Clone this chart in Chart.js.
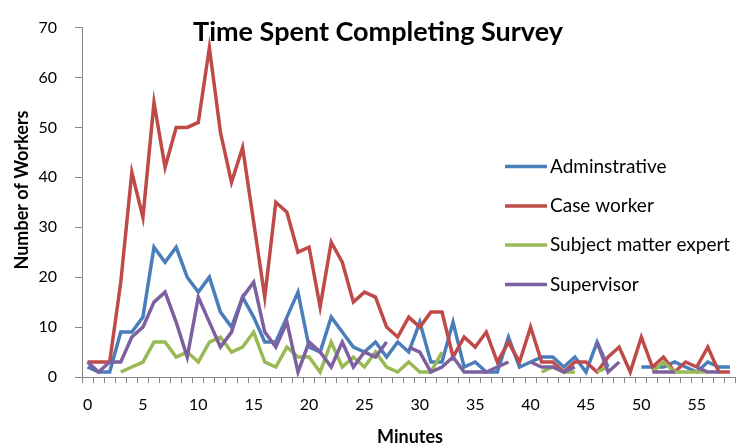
<!DOCTYPE html>
<html>
<head>
<meta charset="utf-8">
<script src="https://cdn.jsdelivr.net/npm/chart.js@4.4.1/dist/chart.umd.min.js"></script>
<style>
  html, body { margin: 0; padding: 0; background: #fff; }
  #wrap { width: 742px; height: 446px; }
</style>
</head>
<body>
<div id="wrap"><canvas id="g_tiempo"></canvas></div>
<script>
var minutos = ['0','1','2','3','4','5','6','7','8','9','10','11','12','13','14','15','16','17','18','19',
               '20','21','22','23','24','25','26','27','28','29','30','31','32','33','34','35','36','37','38','39',
               '40','41','42','43','44','45','46','47','48','49','50','51','52','53','54','55','56','57','58'];

var administrativo = [2,1,1,9,9,12,26,23,26,20,17,20,13,10,16,12,7,7,12,17,
                      6,5,12,9,6,5,7,4,7,5,11,3,3,11,2,3,1,1,8,2,
                      3,4,4,2,4,1,7,2,null,null,2,2,2,3,2,1,3,2,2];

var trabajador_caso = [3,3,3,19,41,32,55,42,50,50,51,66,49,39,46,31,16,35,33,25,
                       26,14,27,23,15,17,16,10,8,12,10,13,13,4,8,6,9,3,7,3,
                       10,3,3,1,3,3,1,4,6,1,8,2,4,1,3,2,6,1,1];

var experto = [null,null,null,1,2,3,7,7,4,5,3,7,8,5,6,9,3,2,6,4,
               4,1,7,2,4,2,5,2,1,3,1,1,5,null,null,null,null,null,null,null,
               null,1,2,1,1,null,1,2,null,null,null,1,3,1,1,1,1,null,null];

var supervisor = [3,1,3,3,8,10,15,17,11,4,16,11,6,9,16,19,9,6,11,1,
                  7,5,2,7,2,5,4,7,null,6,5,1,2,4,1,1,1,2,3,null,
                  3,2,2,1,2,null,7,1,3,null,null,1,1,1,null,2,1,1,null];

var series = ['Adminstrative', 'Case worker', 'Subject matter expert', 'Supervisor'];
var colores = ['#4A7EBB', '#BE4B48', '#98B954', '#7D60A0'];

var gris = '#868686';
var fuente = 'Lato, "Open Sans", sans-serif';

// titulo, leyenda y titulos de ejes dibujados a mano
var textos = {
    id: 'textos',
    afterDraw: function (chart) {
        var ctx = chart.ctx;
        ctx.save();
        ctx.fillStyle = '#000';
        ctx.textAlign = 'center';
        ctx.textBaseline = 'middle';
        ctx.font = 'bold 27px ' + fuente;
        ctx.fillText('Time Spent Completing Survey', 378, 32);

        ctx.font = 'bold 18px ' + fuente;
        ctx.fillText('Minutes', 410, 437);

        ctx.save();
        ctx.translate(22, 190);
        ctx.rotate(-Math.PI / 2);
        ctx.fillText('Number of Workers', 0, 0);
        ctx.restore();

        var ys = [166.5, 206, 245, 284.5];
        ctx.textAlign = 'left';
        ctx.font = '19px ' + fuente;
        for (let i = 0; i < series.length; i++) {
            ctx.strokeStyle = colores[i];
            ctx.lineWidth = 3.5;
            ctx.beginPath();
            ctx.moveTo(505, ys[i]);
            ctx.lineTo(547, ys[i]);
            ctx.stroke();
            ctx.fillStyle = '#000';
            ctx.fillText(series[i], 550, ys[i]);
        }
        ctx.restore();
    }
};

var datos = [administrativo, trabajador_caso, experto, supervisor];
var datasets = [];
for (let i = 0; i < datos.length; i++) {
    datasets.push({
        label: series[i],
        data: datos[i],
        borderColor: colores[i],
        backgroundColor: colores[i],
        borderWidth: 3.5,
        pointRadius: 0,
        tension: 0,
        spanGaps: false,
        order: 4 - i
    });
}

var ctx = document.getElementById('g_tiempo').getContext('2d');
var myChart = new Chart(ctx, {
    type: 'line',
    data: {
        labels: minutos,
        datasets: datasets
    },
    options: {
        responsive: true,
        maintainAspectRatio: false,
        animation: false,
        layout: { padding: { left: 0, top: 19, right: 5, bottom: 0 } },
        plugins: {
            legend: { display: false },
            title: { display: false },
            tooltip: { enabled: false }
        },
        scales: {
            x: {
                type: 'category',
                offset: true,
                border: { display: true, color: gris, width: 1 },
                grid: { offset: true, drawOnChartArea: false, drawTicks: true, tickLength: 6, color: gris },
                ticks: {
                    autoSkip: false,
                    maxRotation: 0,
                    padding: 12,
                    color: '#000',
                    font: { family: fuente, size: 16 },
                    callback: function (val, idx) {
                        return idx % 5 === 0 ? this.getLabelForValue(val) : '';
                    }
                },
                afterFit: function (scale) { scale.height = 69; }
            },
            y: {
                min: 0,
                max: 70,
                border: { display: true, color: gris, width: 1 },
                grid: { drawOnChartArea: false, drawTicks: true, tickLength: 7, color: gris },
                ticks: {
                    stepSize: 10,
                    padding: 18,
                    color: '#000',
                    font: { family: fuente, size: 16 }
                },
                afterFit: function (scale) { scale.width = 82; }
            }
        }
    },
    plugins: [textos]
});
</script>
</body>
</html>
